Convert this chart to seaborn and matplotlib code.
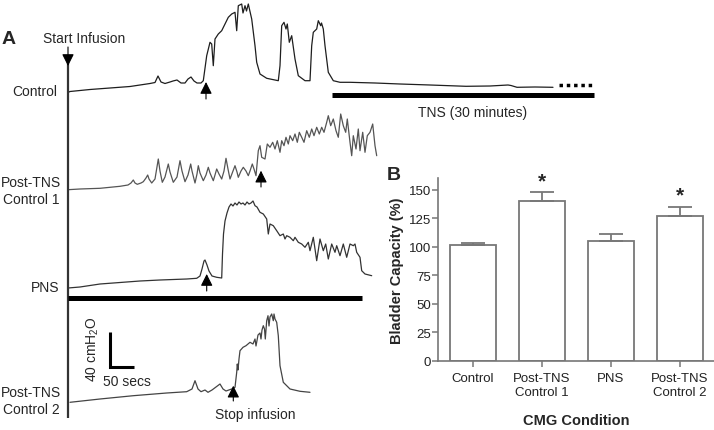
import numpy as np
import pandas as pd
import matplotlib
matplotlib.use("Agg")
import matplotlib.pyplot as plt
import seaborn as sns

# ---- Panel B data (bladder capacity, % of control) ----
conditions = ["Control", "Post-TNS\nControl 1", "PNS", "Post-TNS\nControl 2"]
capacity   = [101.5, 140.5, 105.5, 127.5]
sem        = [2.0, 7.5, 6.0, 8.0]
signif     = [False, True, False, True]
yticks_b   = [0, 25, 50, 75, 100, 125, 150]

# ---- Panel A traces: (time, pressure), panel units ----
control_trace = [
    (69, 93), (70, 92.5), (90, 90.5), (110, 89), (130, 87.5), (150, 84.5), (155, 83.5), (158, 77),
    (161, 83), (165, 84.5), (170, 83), (173, 82), (177, 81), (181, 84), (185, 84), (188, 80),
    (191, 78), (194, 82), (197, 84), (201, 84), (203.3, 81.7), (206.7, 56.7), (210, 43.3),
    (211.7, 45), (213.3, 66.7), (215, 40), (218.3, 35), (221.7, 31.7), (225, 25), (228.3, 18.3),
    (231.7, 15), (235, 13.3), (236.7, 31.7), (238.3, 6.7), (241.7, 5), (243, 14), (245, 6.7),
    (246.5, 12), (248.3, 5), (251.7, 20), (255, 46.7), (256.7, 63.3), (260, 75), (266.7, 79.3),
    (278.3, 81.7), (280, 66.7), (281.7, 26.7), (284, 23.3), (286, 30), (287.3, 25), (289.3, 43.3),
    (291.7, 36.7), (295, 60), (298.3, 76.7), (305, 81.7), (310, 81.7), (311.7, 46.7), (313.3, 33.3),
    (316.7, 30), (318.3, 21.7), (320.7, 26.7), (321.5, 24), (323.3, 30), (325, 46.7), (328.3, 73.3),
    (333.3, 81.7), (340, 83.3), (350, 83.3), (375, 84), (400, 85), (430, 86), (466, 87.3),
    (490, 87), (508, 86), (511, 86.5), (517, 88.3), (535, 88), (553, 88.3)]

post1_trace = [
    (68, 190.7), (80, 190), (100, 189.3), (120, 187.3), (128, 186), (131, 184), (133.3, 181),
    (135, 184), (137.3, 185.3), (141, 184), (143.3, 182.7), (146, 179), (147.7, 176), (149, 180),
    (151.7, 184), (155, 180), (158.3, 160), (160, 172), (162.3, 183.3), (165, 178), (168.3, 165),
    (170, 173), (173.3, 183.3), (177, 178), (180, 161.7), (182, 172), (185, 182.7), (188, 176),
    (190.7, 165), (192, 172), (195, 184), (197, 175), (198.3, 166.7), (200, 174), (203.3, 181.7),
    (206, 176), (208.3, 168.3), (210, 174), (213.3, 181.7), (215, 176), (216.7, 170), (219, 175),
    (221.7, 180), (224, 172), (226, 159.3), (228, 170), (230, 180), (233, 172), (235, 166.7),
    (237, 173), (238.3, 178.3), (241, 172), (243.3, 168.3), (246, 172), (248.3, 176.7), (250, 172),
    (252.3, 165), (254, 170), (256, 176.7), (258.3, 151.7), (260, 146.7), (261.7, 158.3),
    (265, 160), (267.3, 145), (270, 148.3), (272.7, 143.3), (275, 150), (277.3, 141.7),
    (280, 153.3), (281.7, 141.7), (284, 146.7), (286, 138.3), (288.3, 145), (290, 136.7),
    (292.7, 141.7), (295, 135), (297.3, 143.3), (299.3, 133.3), (301.7, 138.3), (304, 143.3),
    (306.7, 131.7), (309.3, 138.3), (311.7, 130), (314, 136.7), (316.7, 128.3), (319.3, 135),
    (321.7, 128.3), (324, 133.3), (326.7, 123.3), (328.3, 116.7), (330.7, 126.7), (333.3, 120),
    (336, 131.7), (338.3, 138.3), (340.7, 115), (343.3, 126.7), (345.7, 133.3), (347.3, 120),
    (350, 143.3), (351.7, 156.7), (353.3, 136.7), (356, 150), (358.3, 130), (360, 151.7),
    (362.7, 133.3), (365, 153.3), (367.3, 136.7), (370, 133.3), (372.7, 125), (375, 146.7),
    (376.7, 156.7)]

pns_trace = [
    (68, 289), (80, 288), (100, 285), (120, 283.5), (140, 282), (160, 281), (186.7, 280),
    (196.7, 279.3), (200, 277), (202, 270), (204, 262), (205, 261), (207, 266), (209, 272),
    (212, 277), (216.7, 278.3), (221.7, 279), (222.5, 255), (223.5, 235), (225, 222), (227, 214),
    (229, 208), (231, 205), (233, 207), (235, 204), (237, 206), (239, 203), (241, 205), (243, 204),
    (245, 206), (247, 203), (249, 205), (251, 204), (253, 202), (255, 206.7), (257, 208),
    (260, 213.3), (263.3, 215), (266.7, 220), (268.3, 235), (270, 225), (273.3, 226.7),
    (276.7, 231.7), (280, 236.7), (283.3, 235), (285, 240), (286.7, 236.7), (290, 238.3),
    (293.3, 241.7), (295, 238.3), (298.3, 243.3), (301.7, 245), (305, 248.3), (308.3, 243.3),
    (310, 251.7), (313.3, 238.3), (316.7, 261.7), (320, 240), (323.3, 251.7), (325.7, 245),
    (328.3, 260), (331.7, 245), (335, 253.3), (336.7, 246.7), (340, 256.7), (343.3, 245),
    (346.7, 258.3), (350, 245), (353.3, 246.7), (355, 245), (356.7, 253.3), (360, 258.3),
    (361.7, 271.7), (365, 275), (371.7, 276.7)]

post2_trace = [
    (70, 403.3), (100, 400), (133.3, 396.7), (166.7, 394), (186.7, 392.7), (192, 390), (195, 381.7),
    (198, 390), (201, 392.7), (205, 391), (208, 393.3), (212, 391), (216, 388), (220, 385),
    (223, 390), (226, 392), (231.7, 390), (235, 388.3), (236.7, 373.3), (237.3, 365), (238, 371),
    (239, 360), (240, 351.7), (243, 348.3), (246, 346.7), (250, 343.3), (253, 345), (255, 340),
    (256, 347), (258, 336), (260, 334), (261, 340), (262, 331), (263.3, 326.7), (264.5, 330),
    (265.3, 340), (266.7, 321.7), (268, 316.7), (269, 327), (270, 318), (271.7, 315), (273.3, 321.7),
    (274, 315), (275, 320), (276.7, 323.3), (278.3, 336.7), (280, 366.7), (283.3, 383.3),
    (290, 390), (300, 392.3), (310, 393.3)]

sns.set_theme(style="white")
plt.rcParams["font.family"] = ["Liberation Sans", "DejaVu Sans"]
plt.rcParams["mathtext.fontset"] = "custom"
plt.rcParams["mathtext.rm"] = "Liberation Sans"

fig = plt.figure(figsize=(7.14, 4.31), dpi=100)

# ---------------- Panel A ----------------
axA = fig.add_axes([0, 0, 1, 1])
traces = [(control_trace, "#1e1e1e"), (post1_trace, "#555555"),
          (pns_trace, "#333333"), (post2_trace, "#444444")]
for trace, c in traces:
    tr = pd.DataFrame(trace, columns=["t", "p"])
    sns.lineplot(data=tr, x="t", y="p", sort=False, estimator=None, color=c, lw=0.9, ax=axA)
axA.set_xlim(0, 714)
axA.set_ylim(431, 0)
axA.axis("off")

# infusion axis + stimulation bars
axA.plot([68, 68], [63, 419], color="#333333", lw=1.6, solid_capstyle="butt")
axA.plot([332, 594], [95.5, 95.5], color="black", lw=3.6, solid_capstyle="butt")
axA.plot([68, 362], [299, 299], color="black", lw=3.6, solid_capstyle="butt")
axA.plot([559, 594], [86, 86], color="black", lw=2.5, ls=(0, (1, 1.1)))

# scale bar
axA.plot([109.5, 109.5, 134], [333, 368, 368], color="black", lw=2.2,
         solid_joinstyle="miter", solid_capstyle="butt")

arrow = dict(arrowstyle="-|>,head_length=0.6,head_width=0.3", color="black",
             lw=0.8, shrinkA=0, shrinkB=0)
axA.annotate("", xy=(68, 67), xytext=(68, 48), arrowprops=arrow)
for ax_x, tip, base in [(206, 83, 100), (261, 171.7, 188), (206.7, 275, 292), (233.3, 386.7, 402)]:
    axA.annotate("", xy=(ax_x, tip), xytext=(ax_x, base), arrowprops=arrow)

fs = 10
axA.text(9, 39, "A", fontsize=14, fontweight="bold", ha="center", va="center")
axA.text(43, 39, "Start Infusion", fontsize=fs, ha="left", va="center")
axA.text(57, 92, "Control", fontsize=fs, ha="right", va="center")
axA.text(31, 191.5, "Post-TNS\nControl 1", fontsize=fs, ha="center", va="center", multialignment="center")
axA.text(59, 288, "PNS", fontsize=fs, ha="right", va="center")
axA.text(31, 401.5, "Post-TNS\nControl 2", fontsize=fs, ha="center", va="center", multialignment="center")
axA.text(473, 113, "TNS (30 minutes)", fontsize=fs, ha="center", va="center")
axA.text(255, 415, "Stop infusion", fontsize=fs, ha="center", va="center")
axA.text(126.7, 381.7, "50 secs", fontsize=fs, ha="center", va="center")
axA.text(93, 349, r"40 cmH$_2$O", fontsize=fs, ha="center", va="center", rotation=90)
axA.text(394, 176, "B", fontsize=14, fontweight="bold", ha="center", va="center")

# ---------------- Panel B ----------------
axB = fig.add_axes([438 / 714, 1 - 362 / 431, 276 / 714, 183 / 431])
axB.patch.set_alpha(0)
df = pd.DataFrame({"condition": conditions, "capacity": capacity})
sns.barplot(data=df, x="condition", y="capacity", color="white", edgecolor="#777777",
            linewidth=1.3, width=0.67, errorbar=None, ax=axB)
xs = np.arange(len(conditions))
axB.errorbar(xs, capacity, yerr=[np.zeros(len(sem)), sem], fmt="none", ecolor="#777777",
             elinewidth=1.3, capsize=8.3, capthick=1.3)
for x, v, e, s in zip(xs, capacity, sem, signif):
    if s:
        axB.text(x, v + e + 2, "*", fontsize=15, fontweight="bold", ha="center", va="bottom")

axB.set_xlim(-0.51, 3.5)
axB.set_ylim(0, 160.5)
axB.set_yticks(yticks_b)
sns.despine(ax=axB)
for side in ["left", "bottom"]:
    axB.spines[side].set_color("#777777")
    axB.spines[side].set_linewidth(1.2)
axB.tick_params(axis="both", which="both", direction="out", length=4, width=1.1,
                color="#777777", labelsize=9.5, labelcolor="#222222",
                left=True, bottom=True)
axB.tick_params(axis="y", pad=1)
axB.tick_params(axis="x", pad=4)
axB.set_xlabel("CMG Condition", fontsize=10.5, fontweight="bold", labelpad=11)
axB.set_ylabel("Bladder Capacity (%)", fontsize=10.5, fontweight="bold")
axB.yaxis.set_label_coords(-0.125, 0.5)

fig.savefig("out.png", dpi=100)
